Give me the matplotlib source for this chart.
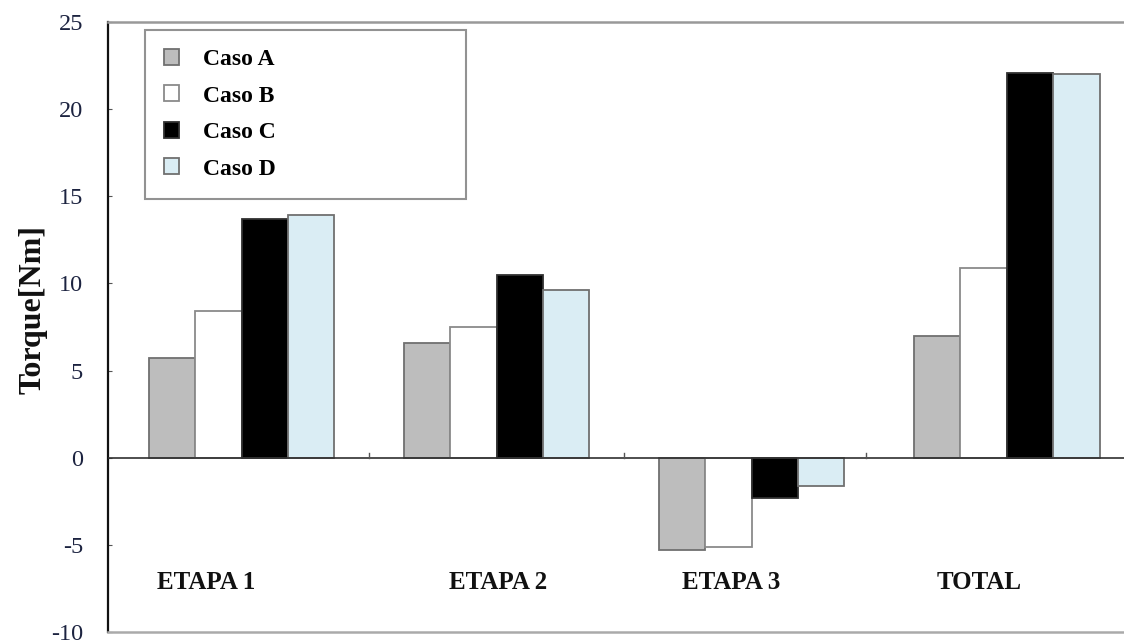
import numpy as np
import matplotlib
matplotlib.use("Agg")
from matplotlib import pyplot as plt

# data
categories = ["ETAPA 1", "ETAPA 2", "ETAPA 3", "TOTAL"]
series_names = ["Caso A", "Caso B", "Caso C", "Caso D"]
caso_a = [5.7, 6.6, -5.3, 7.0]
caso_b = [8.4, 7.5, -5.1, 10.9]
caso_c = [13.7, 10.5, -2.3, 22.1]
caso_d = [13.9, 9.6, -1.6, 22.0]
yticks = [-10, -5, 0, 5, 10, 15, 20, 25]

colors = ["#bdbdbd", "#ffffff", "#000000", "#daedf4"]
edges = ["#707070", "#8a8a8a", "#303030", "#707070"]

plt.rcParams['font.family'] = ['Liberation Serif', 'DejaVu Serif']

fig = plt.figure(figsize=(11.24, 6.43), dpi=100)
ax = fig.add_axes([108/1124, 11/643, 1016/1124, 610/643])

x = np.arange(len(categories))
w = 0.182
for i, vals in enumerate([caso_a, caso_b, caso_c, caso_d]):
    ax.bar(x + (i - 1.5) * w, vals, width=w, color=colors[i],
           edgecolor=edges[i], linewidth=1.3, label=series_names[i], zorder=2)

ax.axhline(0, color="#303030", linewidth=1.2, zorder=3)

ax.set_xlim(-0.524, 3.46)
ax.set_ylim(-10, 25)
ax.set_yticks(yticks)
ax.set_yticklabels([str(t) for t in yticks], fontsize=17.5, color="#1c2340")
ax.set_xticks([])
ax.tick_params(axis='y', direction='in', length=3, pad=18, color="#555555")

# category labels sit inside the plot, below zero
label_x = [-0.14, 1.005, 1.92, 2.89]
for lx, name in zip(label_x, categories):
    ax.text(lx, -7.15, name, ha='center', va='center', fontsize=18,
            fontweight='bold', color="#111111")

# small separator ticks on the zero line
for sx in [0.5, 1.5, 2.45]:
    ax.plot([sx, sx], [0, 0.25], color="#555555", linewidth=1, zorder=3)

ax.spines['right'].set_visible(False)
ax.spines['top'].set_color("#999999")
ax.spines['bottom'].set_color("#aaaaaa")
ax.spines['top'].set_linewidth(1.8)
ax.spines['bottom'].set_linewidth(1.8)
ax.spines['left'].set_color("#111111")
ax.spines['left'].set_linewidth(1.6)

fig.text(33/1124, 1 - 310/643, "Torque[Nm]", rotation=90, ha='center',
         va='center', fontsize=23, fontweight='bold', color="#111111")

# legend box spans roughly x 145..466, y 29..191 px
lx0 = (145 - 108) / 1016
ly1 = 1 - (29 - 21) / 610
lw = (466 - 145) / 1016
lh = (191 - 29) / 610
leg = ax.legend(loc='upper left', bbox_to_anchor=(lx0, ly1 - lh, lw, lh),
                mode='expand', prop={'weight': 'bold', 'size': 17},
                frameon=True, fancybox=False, handlelength=0.65,
                handleheight=0.65, handletextpad=1.0, labelspacing=0.65,
                borderpad=0.8, borderaxespad=0)
leg.get_frame().set_edgecolor("#777777")
leg.get_frame().set_linewidth(1.5)

fig.savefig("out.png", dpi=100)
